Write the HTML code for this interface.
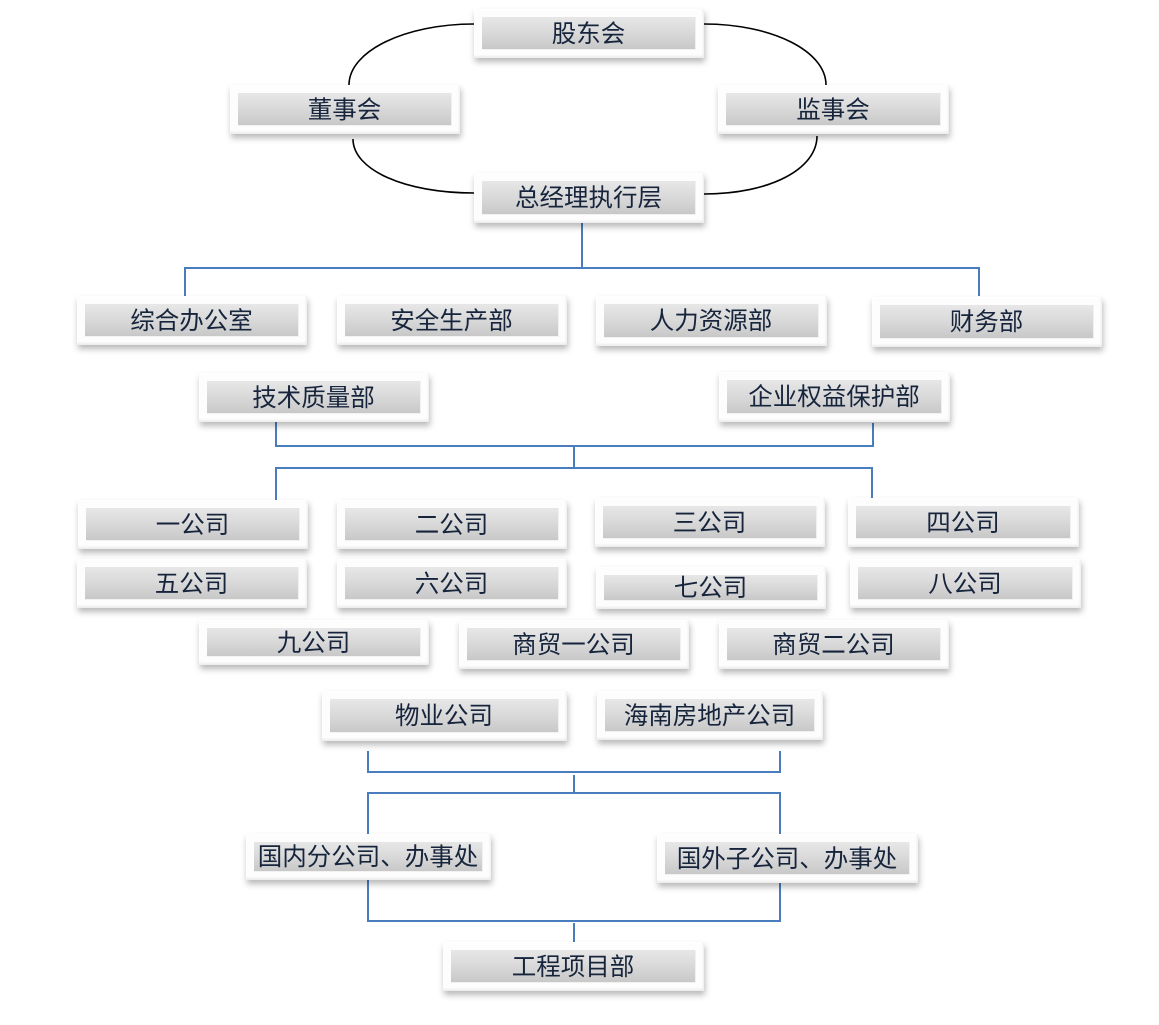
<!DOCTYPE html>
<html>
<head>
<meta charset="utf-8">
<style>
  html, body { margin:0; padding:0; background:#fff; }
  body { width:1159px; height:1025px; position:relative; overflow:hidden;
         font-family:"Liberation Sans","Noto Sans CJK SC","WenQuanYi Zen Hei",sans-serif; }
  svg.lines { position:absolute; left:0; top:0; }
  .b { position:absolute; box-sizing:border-box; padding:8px;
       background:#fdfdfd;
       box-shadow: 1px 4px 6px rgba(0,0,0,0.28), inset -1px -2px 2px rgba(0,0,0,0.07), inset 1px 1px 1px rgba(255,255,255,1); }
  .b .i { width:100%; height:100%; box-sizing:border-box;
          background:linear-gradient(to bottom,#e7e7e7 0%,#d9d9d9 50%,#c8c8c8 100%);
          border-bottom:1px solid #f2f2f2; border-right:1px solid #f0f0f0;
          display:flex; align-items:center; justify-content:center;
          padding-bottom:2px;
          font-size:24.5px; color:#16243c; white-space:nowrap; letter-spacing:0; }
</style>
</head>
<body>
<svg class="lines" width="1159" height="1025" viewBox="0 0 1159 1025">
  <g fill="none" stroke="#000" stroke-width="1.6">
    <path d="M474,24 C405,24 349,51 349,85"/>
    <path d="M353,139 C353,170 405,193 474,193"/>
    <path d="M704,24 C772,24 826,51 826,85"/>
    <path d="M817,136 C817,169 770,194 704,194"/>
  </g>
  <g fill="none" stroke="#4a7dbd" stroke-width="2">
    <path d="M582,223 V268"/>
    <path d="M185,296 V268 H979 V296"/>
    <path d="M276,422 V446 H873 V423"/>
    <path d="M574,446 V468"/>
    <path d="M276,500 V468 H872 V498"/>
    <path d="M368,751 V772 H780 V751"/>
    <path d="M574,775 V793"/>
    <path d="M368,834 V793 H780 V834"/>
    <path d="M368,880 V921 H780 V883"/>
    <path d="M574,923 V942"/>
  </g>
</svg>

<div class="b" style="left:474px;top:9px;width:230px;height:49px;"><div class="i">股东会</div></div>
<div class="b" style="left:230px;top:85px;width:230px;height:49px;"><div class="i">董事会</div></div>
<div class="b" style="left:718px;top:85px;width:231px;height:49px;"><div class="i">监事会</div></div>
<div class="b" style="left:474px;top:173px;width:230px;height:50px;"><div class="i">总经理执行层</div></div>

<div class="b" style="left:77px;top:296px;width:230px;height:49px;"><div class="i">综合办公室</div></div>
<div class="b" style="left:337px;top:296px;width:230px;height:49px;"><div class="i">安全生产部</div></div>
<div class="b" style="left:596px;top:296px;width:231px;height:50px;"><div class="i">人力资源部</div></div>
<div class="b" style="left:872px;top:297px;width:230px;height:50px;"><div class="i">财务部</div></div>

<div class="b" style="left:199px;top:373px;width:230px;height:49px;"><div class="i">技术质量部</div></div>
<div class="b" style="left:719px;top:372px;width:231px;height:50px;"><div class="i">企业权益保护部</div></div>

<div class="b" style="left:78px;top:500px;width:230px;height:49px;"><div class="i">一公司</div></div>
<div class="b" style="left:337px;top:500px;width:230px;height:49px;"><div class="i">二公司</div></div>
<div class="b" style="left:595px;top:498px;width:230px;height:49px;"><div class="i">三公司</div></div>
<div class="b" style="left:848px;top:498px;width:231px;height:49px;"><div class="i">四公司</div></div>

<div class="b" style="left:77px;top:559px;width:230px;height:49px;"><div class="i">五公司</div></div>
<div class="b" style="left:337px;top:559px;width:230px;height:49px;"><div class="i">六公司</div></div>
<div class="b" style="left:596px;top:567px;width:230px;height:42px;"><div class="i">七公司</div></div>
<div class="b" style="left:850px;top:559px;width:231px;height:49px;"><div class="i">八公司</div></div>

<div class="b" style="left:199px;top:620px;width:230px;height:45px;"><div class="i">九公司</div></div>
<div class="b" style="left:459px;top:620px;width:230px;height:49px;"><div class="i">商贸一公司</div></div>
<div class="b" style="left:719px;top:620px;width:230px;height:49px;"><div class="i">商贸二公司</div></div>

<div class="b" style="left:322px;top:691px;width:245px;height:50px;"><div class="i">物业公司</div></div>
<div class="b" style="left:597px;top:691px;width:226px;height:49px;"><div class="i">海南房地产公司</div></div>

<div class="b" style="left:246px;top:834px;width:245px;height:46px;"><div class="i">国内分公司、办事处</div></div>
<div class="b" style="left:657px;top:834px;width:261px;height:49px;"><div class="i">国外子公司、办事处</div></div>

<div class="b" style="left:443px;top:942px;width:261px;height:49px;"><div class="i">工程项目部</div></div>
</body>
</html>
